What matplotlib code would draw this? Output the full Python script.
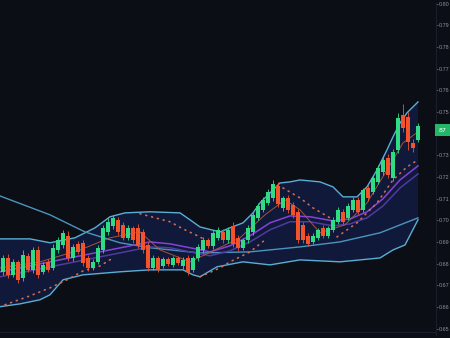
import matplotlib
matplotlib.use("Agg")
import matplotlib.pyplot as plt
import numpy as np

# ---------------- data ----------------
opens = [0.6763, 0.6827, 0.6749, 0.6809, 0.6735, 0.6837, 0.6772, 0.6864, 0.6763, 0.6809,
         0.6781, 0.6864, 0.6887, 0.6929, 0.6827, 0.6892, 0.6897, 0.6827, 0.6781, 0.6809,
         0.6864, 0.6947, 0.6975, 0.7003, 0.6980, 0.6920, 0.6966, 0.6966, 0.6947, 0.6887,
         0.6781, 0.6827, 0.6790, 0.6823, 0.6795, 0.6827, 0.6790, 0.6827, 0.6772, 0.6827,
         0.6864, 0.6910, 0.6883, 0.6920, 0.6947, 0.6910, 0.6975, 0.6920, 0.6874, 0.6910,
         0.6947, 0.7012, 0.7049, 0.7081, 0.7104, 0.7160, 0.7058, 0.7104, 0.7072, 0.7040,
         0.6980, 0.6929, 0.6901, 0.6920, 0.6966, 0.6929, 0.6957, 0.6994, 0.7040, 0.7012,
         0.7049, 0.7095, 0.7049, 0.7150, 0.7132, 0.7178, 0.7224, 0.7289, 0.7197, 0.7326,
         0.7488, 0.7479, 0.7358, 0.7372]
closes = [0.6827, 0.6749, 0.6809, 0.6726, 0.6841, 0.6772, 0.6864, 0.6749, 0.6795, 0.6772,
          0.6874, 0.6910, 0.6943, 0.6827, 0.6878, 0.6855, 0.6804, 0.6781, 0.6809, 0.6874,
          0.6966, 0.6994, 0.7012, 0.6947, 0.6920, 0.6966, 0.6910, 0.6887, 0.6864, 0.6781,
          0.6827, 0.6772, 0.6823, 0.6800, 0.6827, 0.6804, 0.6818, 0.6763, 0.6827, 0.6878,
          0.6910, 0.6883, 0.6943, 0.6957, 0.6910, 0.6957, 0.6892, 0.6874, 0.6910, 0.6966,
          0.7026, 0.7067, 0.7095, 0.7132, 0.7169, 0.7077, 0.7104, 0.7049, 0.7026, 0.6910,
          0.6910, 0.6892, 0.6929, 0.6957, 0.6929, 0.6966, 0.7003, 0.7049, 0.6994, 0.7067,
          0.7095, 0.7040, 0.7141, 0.7104, 0.7197, 0.7243, 0.7280, 0.7210, 0.7317, 0.7474,
          0.7428, 0.7363, 0.7335, 0.7437]
highs = [0.6841, 0.6846, 0.6823, 0.6818, 0.6864, 0.6850, 0.6878, 0.6880, 0.6809, 0.6820,
         0.6890, 0.6925, 0.6957, 0.6950, 0.6892, 0.6905, 0.6910, 0.6840, 0.6823, 0.6885,
         0.6980, 0.7012, 0.7026, 0.7017, 0.6994, 0.6980, 0.6975, 0.6984, 0.6961, 0.6901,
         0.6840, 0.6837, 0.6832, 0.6832, 0.6837, 0.6836, 0.6830, 0.6841, 0.6837, 0.6890,
         0.6924, 0.6920, 0.6955, 0.6970, 0.6960, 0.6970, 0.6995, 0.6933, 0.6920, 0.6978,
         0.7040, 0.7080, 0.7108, 0.7145, 0.7185, 0.7178, 0.7115, 0.7118, 0.7085, 0.7055,
         0.6995, 0.6940, 0.6940, 0.6966, 0.6978, 0.6975, 0.7015, 0.7060, 0.7052, 0.7080,
         0.7108, 0.7110, 0.7152, 0.7165, 0.7210, 0.7255, 0.7292, 0.7305, 0.7330, 0.7495,
         0.7538, 0.7500, 0.7375, 0.7450]
lows = [0.6749, 0.6735, 0.6738, 0.6712, 0.6722, 0.6760, 0.6758, 0.6735, 0.6752, 0.6760,
        0.6770, 0.6852, 0.6875, 0.6812, 0.6815, 0.6845, 0.6790, 0.6768, 0.6770, 0.6798,
        0.6852, 0.6935, 0.6962, 0.6935, 0.6908, 0.6910, 0.6898, 0.6875, 0.6850, 0.6766,
        0.6770, 0.6760, 0.6780, 0.6790, 0.6785, 0.6793, 0.6778, 0.6750, 0.6760, 0.6815,
        0.6852, 0.6872, 0.6870, 0.6908, 0.6898, 0.6898, 0.6878, 0.6860, 0.6862, 0.6898,
        0.6935, 0.7000, 0.7038, 0.7070, 0.7092, 0.7063, 0.7045, 0.7036, 0.7012, 0.6895,
        0.6897, 0.6880, 0.6890, 0.6910, 0.6918, 0.6918, 0.6946, 0.6982, 0.6982, 0.7000,
        0.7038, 0.7028, 0.7038, 0.7092, 0.7120, 0.7166, 0.7212, 0.7195, 0.7183, 0.7312,
        0.7410, 0.7326, 0.7318, 0.7360]

# Bollinger upper / lower (x in candle index)
upper_x = [-0.6, 5.4, 9.4, 14.4, 18.4, 21.4, 24.4, 29.4, 35.4, 37.4, 39.4, 43.4, 45.4, 48, 50,
           51.4, 53.4, 55.4, 57.4, 59.4, 63.4, 66, 68, 70.8, 72.8, 74.8, 76.8, 78, 79.4, 80.8, 83]
upper_y = [0.6915, 0.6915, 0.6897, 0.6920, 0.6966, 0.7017, 0.7035, 0.7040, 0.7035, 0.7003,
           0.6970, 0.6947, 0.6966, 0.6989, 0.7035, 0.7081, 0.7127, 0.7173, 0.7178, 0.7187,
           0.7178, 0.7155, 0.7109, 0.7109, 0.7155, 0.7233, 0.7326, 0.7386, 0.7450, 0.7497, 0.7547]
lower_x = [-0.6, 3.4, 7.4, 9.4, 12, 16, 23.4, 29.4, 36, 38, 39.4, 42.8, 48, 53.4, 59.4, 67.4,
           75.4, 78, 80.4, 83]
lower_y = [0.6602, 0.6615, 0.6634, 0.6657, 0.6726, 0.6749, 0.6763, 0.6772, 0.6772, 0.6749,
           0.6740, 0.6786, 0.6809, 0.6795, 0.6818, 0.6809, 0.6827, 0.6864, 0.6887, 0.7003]

# long moving average (cyan)
long_x = [-0.6, 9.4, 16.4, 23.4, 29.4, 39.4, 49.4, 59.4, 67.4, 75.4, 83]
long_y = [0.7113, 0.7026, 0.6947, 0.6897, 0.6874, 0.6850, 0.6855, 0.6878, 0.6901, 0.6943, 0.7012]

# purple moving averages
ma_x = [-0.6, 9.4, 19.4, 29.4, 33.4, 37.4, 41.4, 45.4, 49.4, 53.4, 57.4, 61.4, 66, 69.4,
        72.8, 76, 79.4, 83]
ma1_y = [0.6763, 0.6809, 0.6855, 0.6901, 0.6892, 0.6874, 0.6855, 0.6883, 0.6929, 0.6989,
         0.7021, 0.7017, 0.6998, 0.7007, 0.7040, 0.7100, 0.7187, 0.7252]
ma2_y = [0.6740, 0.6786, 0.6832, 0.6878, 0.6874, 0.6855, 0.6837, 0.6860, 0.6901, 0.6957,
         0.6994, 0.6994, 0.6975, 0.6984, 0.7012, 0.7067, 0.7150, 0.7215]

# short moving average (thin orange)
short_x = [-0.6, 7.4, 15.4, 21.4, 27.4, 31.4, 37.4, 42.4, 47.4, 52.4, 56.4, 59.4, 63.4,
           68.4, 72.8, 76.8, 80, 83]
short_y = [0.6781, 0.6809, 0.6864, 0.6920, 0.6947, 0.6864, 0.6809, 0.6864, 0.6920, 0.7026,
           0.7095, 0.7049, 0.6943, 0.6980, 0.7081, 0.7233, 0.7358, 0.7409]

# parabolic SAR segments (dotted)
sar_segments = [
    ([0.4, 5.4, 9.4, 12.8, 16.0, 19.4, 22.0], [0.6611, 0.6652, 0.6689, 0.6726, 0.6767, 0.6790, 0.6827]),
    ([27.4, 33.4, 36.0, 39.4, 40.4], [0.7031, 0.6994, 0.6961, 0.6924, 0.6910]),
    ([39.4, 43.4, 45.4, 49.4, 52.4], [0.6740, 0.6781, 0.6809, 0.6855, 0.6910]),
    ([56.0, 59.4, 62.0, 65.4], [0.7150, 0.7104, 0.7058, 0.7012]),
    ([66.8, 70.8, 74.8, 78.0, 80.8, 83.0], [0.6924, 0.6989, 0.7081, 0.7187, 0.7247, 0.7280]),
]

yticks = [0.65, 0.66, 0.67, 0.68, 0.69, 0.70, 0.71, 0.72, 0.73, 0.74,
          0.75, 0.76, 0.77, 0.78, 0.79, 0.80]
ytick_labels = ["0.65", "0.66", "0.67", "0.68", "0.69", "0.70", "0.71", "0.72", "0.73", "",
                "0.75", "0.76", "0.77", "0.78", "0.79", "0.80"]
last_label = "87"

# ---------------- style ----------------
BG = "#0b0e14"
GREEN = "#2fdc84"
RED = "#f2532a"
BAND = "#5aaed3"
FILL = "#111a3c"

fig = plt.figure(figsize=(4.5, 3.38), dpi=100, facecolor=BG)
ax = fig.add_axes([0, 0.008, 436 / 450, 0.984])
ax.set_facecolor(BG)

n = len(closes)
x = np.arange(n)

# band fill
poly_x = list(upper_x) + list(lower_x[::-1])
poly_y = list(upper_y) + list(lower_y[::-1])
ax.fill(poly_x, poly_y, color=FILL, alpha=0.95, lw=0, zorder=1)
ax.plot(upper_x, upper_y, color=BAND, lw=1.0, zorder=2)
ax.plot(lower_x, lower_y, color=BAND, lw=1.0, zorder=2)
ax.plot(long_x, long_y, color="#4b95bd", lw=1.0, zorder=2)

ax.plot(ma_x, ma2_y, color="#4f3aa0", lw=1.1, zorder=2)
ax.plot(ma_x, ma1_y, color="#8443d6", lw=1.1, zorder=2)
ax.plot(short_x, short_y, color="#b45a3c", lw=0.7, alpha=0.9, zorder=2)

for sx, sy in sar_segments:
    ax.plot(sx, sy, color="#cf6c4c", lw=1.2, linestyle=(0, (0.6, 3.0)),
            dash_capstyle="round", zorder=2)

# candles
for i in range(n):
    o, c, h, l = opens[i], closes[i], highs[i], lows[i]
    col = GREEN if c >= o else RED
    ax.vlines(x[i], l, h, color=col, lw=0.6, zorder=3)
    ax.bar(x[i], abs(c - o) if abs(c - o) > 0.0002 else 0.0002, bottom=min(o, c),
           width=0.64, color=col, lw=0, zorder=4)

ax.set_xlim(-0.6, -0.6 + 436 / 5)
ax.set_ylim(0.6470, 0.8005)

ax.axhline(0.6485, color="#1c2230", lw=0.6, zorder=0)

ax.set_xticks([])
ax.yaxis.tick_right()
ax.set_yticks(yticks)
ax.set_yticklabels(ytick_labels, family="Liberation Sans")
ax.tick_params(axis="y", colors="#6f7580", labelsize=3.9, length=1.5, width=0.5, pad=0.8,
               labelcolor="#8d939e")
for s in ["top", "left", "bottom"]:
    ax.spines[s].set_visible(False)
ax.spines["right"].set_color("#1e2430")
ax.spines["right"].set_linewidth(0.6)

# last price label
ax.text(1.006, closes[-1] - 0.0020, last_label, transform=ax.get_yaxis_transform(),
        fontsize=4.5, color="white", va="center", ha="left", clip_on=False, zorder=10,
        bbox=dict(boxstyle="square,pad=0.5", fc="#23b868", ec="none"))

fig.savefig("out.png", dpi=100, facecolor=BG)
